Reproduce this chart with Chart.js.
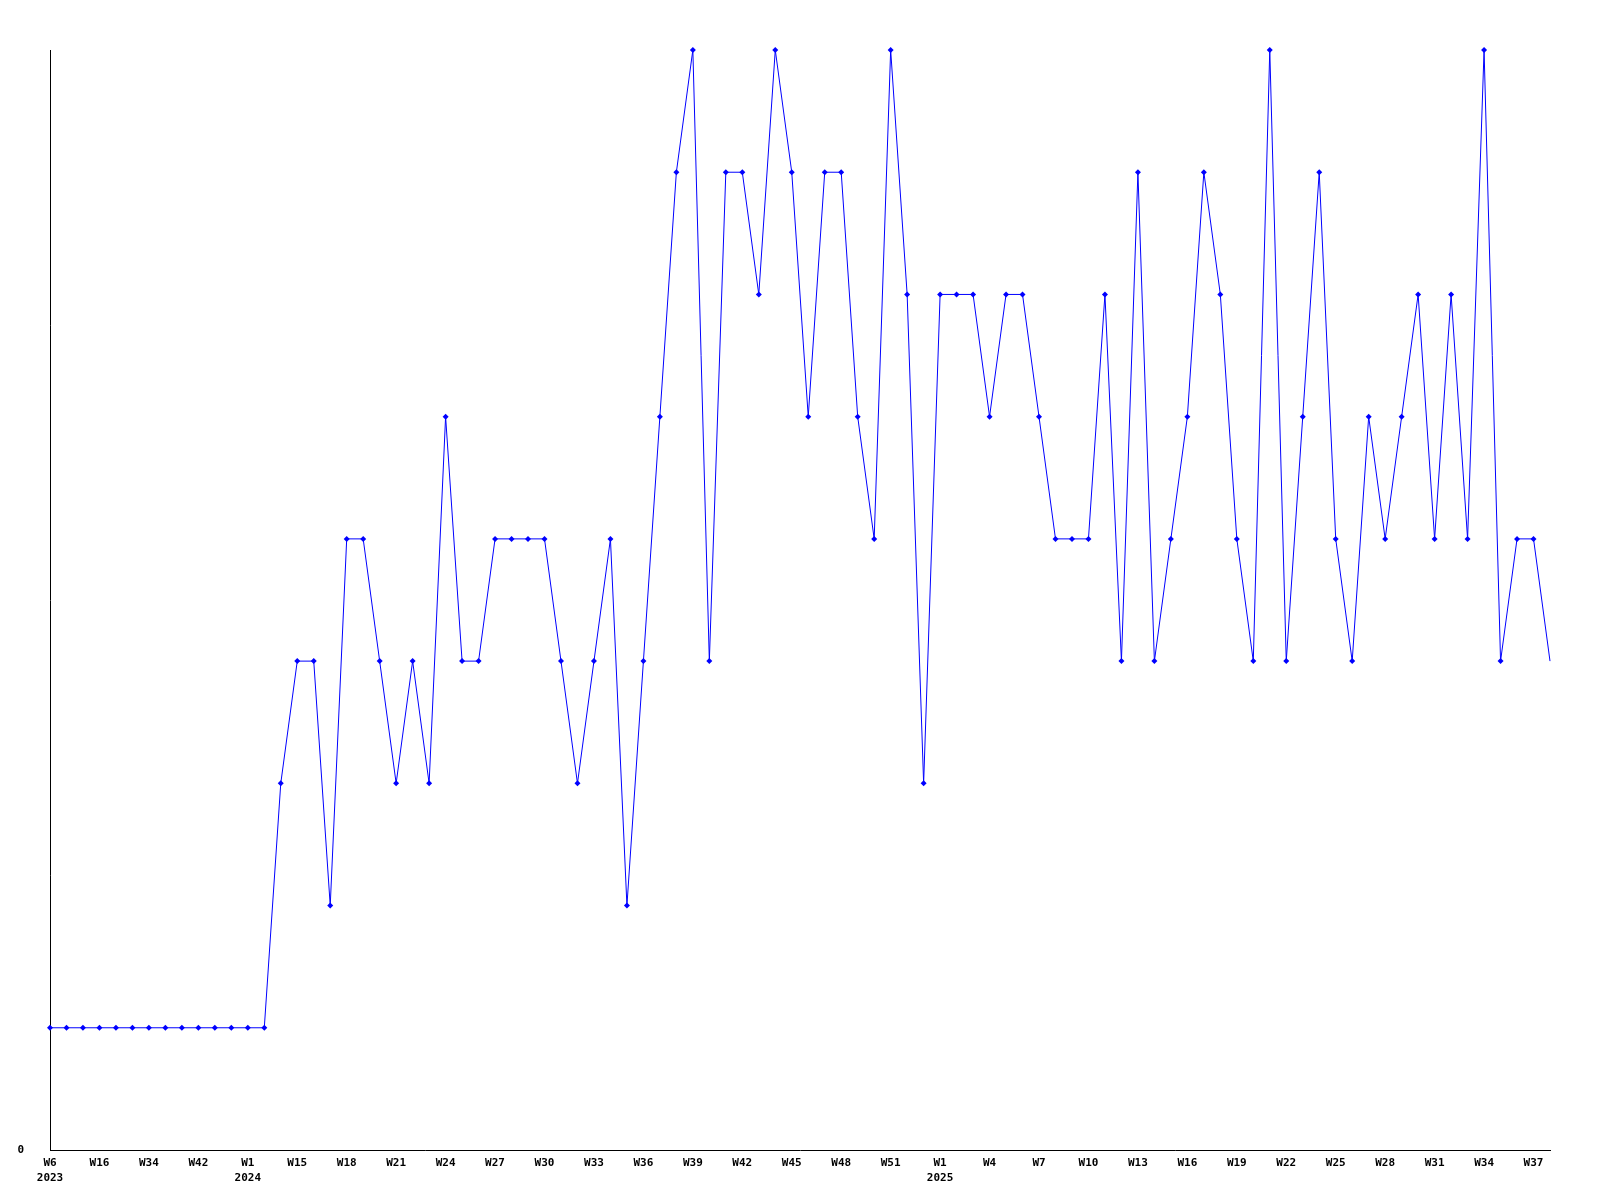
<!DOCTYPE html>
<html>
<head>
<meta charset="utf-8">
<script src="https://cdn.jsdelivr.net/npm/chart.js@4/dist/chart.umd.min.js"></script>
<style>
    html, body { margin: 0; padding: 0; background: #fff; }
    #wrap { width: 1600px; height: 1200px; }
</style>
</head>
<body>
<div id="wrap"><canvas id="chart" width="1600" height="1200"></canvas></div>
<script>
// Week categories (only every 3rd one gets a label on the axis)
const weeks = [
    'W6', 'W9', 'W12', 'W16', 'W22', 'W28', 'W34', 'W37', 'W40', 'W42', 'W45', 'W48',
    'W1', 'W5', 'W11', 'W15', 'W16', 'W17', 'W18', 'W19', 'W20', 'W21', 'W22', 'W23',
    'W24', 'W25', 'W26', 'W27', 'W28', 'W29', 'W30', 'W31', 'W32', 'W33', 'W34', 'W35',
    'W36', 'W37', 'W38', 'W39', 'W40', 'W41', 'W42', 'W43', 'W44', 'W45', 'W46', 'W47',
    'W48', 'W49', 'W50', 'W51', 'W52', 'W53',
    'W1', 'W2', 'W3', 'W4', 'W5', 'W6', 'W7', 'W8', 'W9', 'W10', 'W11', 'W12',
    'W13', 'W14', 'W15', 'W16', 'W17', 'W18', 'W19', 'W20', 'W21', 'W22', 'W23', 'W24',
    'W25', 'W26', 'W27', 'W28', 'W29', 'W30', 'W31', 'W32', 'W33', 'W34', 'W35', 'W36',
    'W37', 'W38'
];

// Year shown under the first week of each year
const yearMarks = { 0: '2023', 12: '2024', 54: '2025' };

// Weekly counts
const counts = [
    1, 1, 1, 1, 1, 1, 1, 1, 1, 1, 1, 1,
    1, 1, 3, 4, 4, 2, 5, 5, 4, 3, 4, 3,
    6, 4, 4, 5, 5, 5, 5, 4, 3, 4, 5, 2,
    4, 6, 8, 9, 4, 8, 8, 7, 9, 8, 6, 8,
    8, 6, 5, 9, 7, 3,
    7, 7, 7, 6, 7, 7, 6, 5, 5, 5, 7, 4,
    8, 4, 5, 6, 8, 7, 5, 4, 9, 4, 6, 8,
    5, 4, 6, 5, 6, 7, 5, 7, 5, 9, 4, 5,
    5, 4
];

const yMin = 0;
const yMax = 9;

const axisFont = { family: "'DejaVu Sans Mono', 'Liberation Mono', monospace", size: 11, weight: 'bold', lineHeight: 1.36 };

const ctx = document.getElementById('chart').getContext('2d');
const lastIndex = counts.length - 1;

new Chart(ctx, {
    type: 'line',
    data: {
        labels: weeks,
        datasets: [{
            data: counts,
            borderColor: '#0000ff',
            backgroundColor: '#0000ff',
            borderWidth: 1,
            tension: 0,
            fill: false,
            clip: false,
            pointStyle: 'rectRot',
            pointRadius: (c) => c.dataIndex === lastIndex ? 0 : 3,
            pointBorderWidth: 0,
            pointBackgroundColor: '#0000ff'
        }]
    },
    options: {
        responsive: false,
        animation: false,
        events: [],
        layout: { padding: { top: 50, right: 50, left: 0, bottom: 0 } },
        plugins: {
            legend: { display: false },
            tooltip: { enabled: false }
        },
        scales: {
            x: {
                type: 'category',
                offset: false,
                grid: { drawOnChartArea: false, drawTicks: false },
                border: { display: true, color: '#000', width: 1 },
                ticks: {
                    autoSkip: false,
                    maxRotation: 0,
                    minRotation: 0,
                    padding: 6,
                    color: '#000',
                    font: axisFont,
                    callback: (value, index) => {
                        if (index % 3 !== 0) return '';
                        const year = yearMarks[index];
                        return year ? [weeks[index], year] : weeks[index];
                    }
                },
                afterFit: (axis) => { axis.height = 50; }
            },
            y: {
                min: yMin,
                max: yMax,
                grid: { drawOnChartArea: false, drawTicks: false },
                border: { display: true, color: '#000', width: 1 },
                ticks: {
                    stepSize: 1,
                    padding: 26,
                    color: '#000',
                    font: axisFont,
                    callback: (v) => v === 0 ? '0' : ''
                },
                afterFit: (axis) => { axis.width = 50; }
            }
        }
    }
});
</script>
</body>
</html>
